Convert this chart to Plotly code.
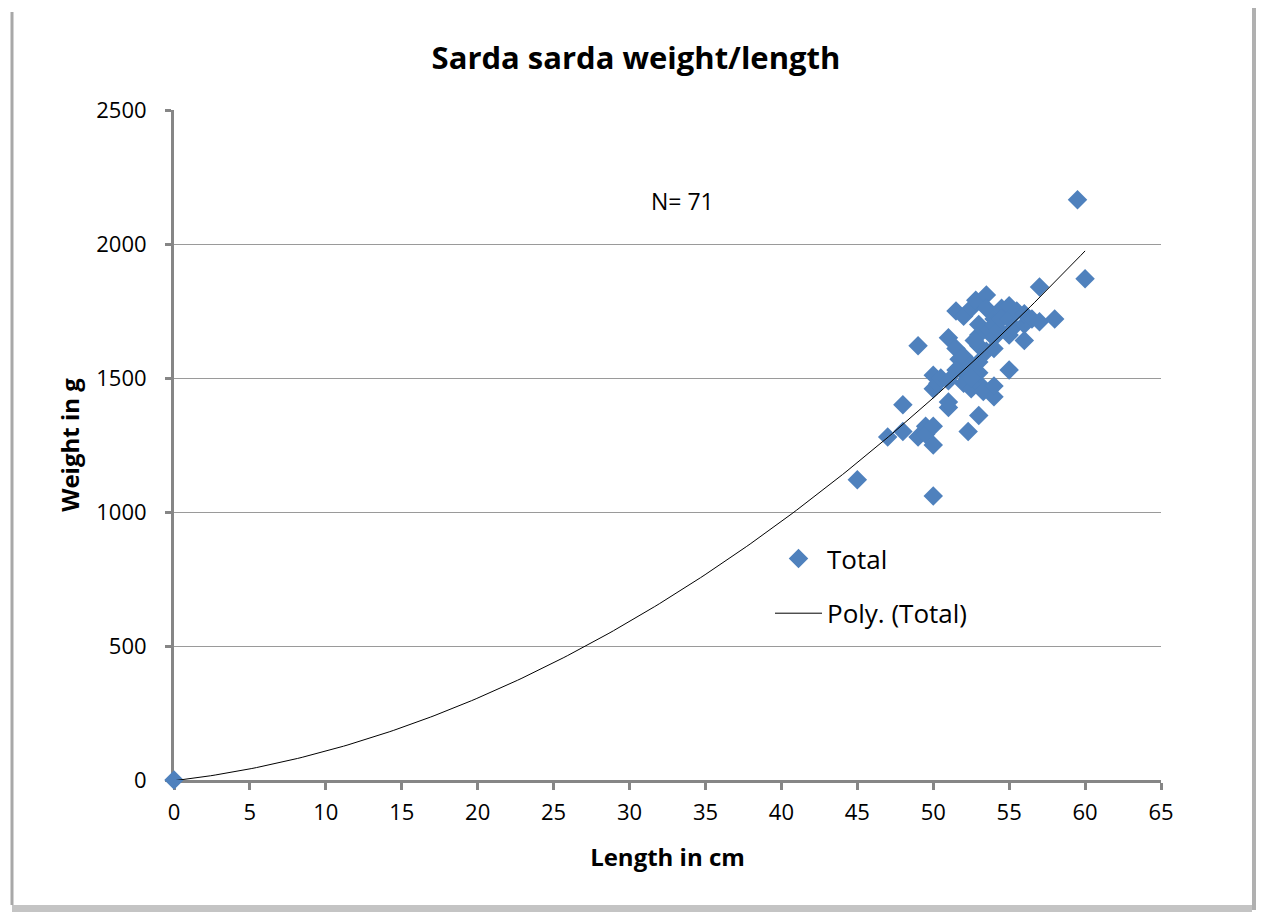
import numpy as np
import plotly.graph_objects as go

length_cm = [0, 45, 47, 48, 48, 49, 49, 49.5, 49.5, 50, 50, 50, 50, 50, 50.3, 50.5,
             51, 51, 51, 51, 51.5, 51.5, 51.7, 52, 52, 52, 52, 52.3, 52.5, 52.5,
             52.5, 52.8, 53, 53, 53, 53, 53, 53, 53.3, 53.5, 53.5, 53.5, 53.7, 54,
             54, 54, 54, 54, 54, 54.3, 54.5, 54.5, 55, 55, 55, 55, 55.3, 55.5, 56,
             56, 56, 56.5, 57, 57, 58, 59.5, 60, 52.5, 53, 51.5, 52.7]
weight_g = [0, 1120, 1280, 1300, 1400, 1620, 1280, 1320, 1290, 1250, 1060, 1320, 1510, 1460, 1480, 1500,
            1390, 1650, 1410, 1490, 1750, 1610, 1570, 1520, 1480, 1580, 1730, 1300, 1460, 1550,
            1760, 1790, 1360, 1480, 1620, 1660, 1700, 1520, 1450, 1810, 1760, 1600, 1680, 1430,
            1470, 1610, 1720, 1650, 1700, 1680, 1760, 1720, 1770, 1530, 1660, 1720, 1690, 1750, 1640,
            1700, 1740, 1720, 1840, 1710, 1720, 2165, 1870, 1500, 1560, 1530, 1640]

x_ticks = list(range(0, 70, 5))
y_ticks = [0, 500, 1000, 1500, 2000, 2500]

coef = np.polyfit(length_cm, weight_g, 2)
fx = np.linspace(0, max(length_cm), 200)
fy = np.polyval(coef, fx)

FONT = "Open Sans"
OFF = 8  # page body margin
W, H = 1264 - OFF, 916 - OFF
L, R, T, B = 174, 1161, 110, 780  # plot area in screen pixels

fig = go.Figure()
fig.add_trace(go.Scatter(
    x=length_cm, y=weight_g, mode="markers", name="Total", legendgroup="a",
    marker=dict(symbol="diamond", size=15, color="#4F81BD", line=dict(width=0)),
    cliponaxis=False))
fig.add_trace(go.Scatter(
    x=fx, y=fy, mode="lines", name="Poly. (Total)", legendgroup="b",
    line=dict(color="black", width=1)))


def px(xp):
    return (xp - L) / (R - L)


def py(yp):
    return (B - yp) / (B - T)


fig.update_layout(
    width=W, height=H,
    margin=dict(l=L - OFF, r=W - (R - OFF), t=T - OFF, b=H - (B - OFF)),
    paper_bgcolor="white", plot_bgcolor="white",
    title=dict(text="<b>Sarda sarda weight/length</b>", x=0.5, xanchor="center",
               xref="container",
               y=1 - (58 - OFF) / H, yanchor="middle",
               font=dict(family=FONT, size=31, color="black")),
    font=dict(family=FONT, color="black"),
    showlegend=True,
    legend=dict(x=px(770), y=py(535), xanchor="left", yanchor="top",
                bgcolor="rgba(0,0,0,0)", font=dict(size=26, family=FONT),
                traceorder="grouped", tracegroupgap=18, itemwidth=47),
    xaxis=dict(range=[0, 65], tickvals=x_ticks, showgrid=False, zeroline=False,
               showline=True, linecolor="#868686", linewidth=3,
               ticks="outside", ticklen=7, tickcolor="#868686", tickwidth=3,
               ticklabelstandoff=4, layer="below traces",
               tickfont=dict(size=22), title=dict(text="<b>Length in cm</b>",
                                                 font=dict(size=24), standoff=24)),
    yaxis=dict(range=[0, 2500], tickvals=y_ticks, showgrid=True, gridcolor="#9a9a9a",
               gridwidth=1, zeroline=False, showline=True, linecolor="#868686", linewidth=3,
               ticks="outside", ticklen=6, tickcolor="#868686", tickwidth=3,
               ticklabelstandoff=14, layer="below traces",
               tickfont=dict(size=22), title=dict(text="<b>Weight in g</b>",
                                                 font=dict(size=24), standoff=10)),
)

fig.add_annotation(text="N= 71", xref="paper", yref="paper",
                   x=px(682), y=py(183), showarrow=False,
                   font=dict(size=23, family=FONT))

# chart frame with shadow (left line, right shadow, bottom shadow)
fig.add_shape(type="rect", xref="paper", yref="paper",
              x0=px(1252), x1=px(1257), y0=py(910), y1=py(0),
              fillcolor="#b0b0b0", line=dict(width=0), layer="below")
fig.add_shape(type="rect", xref="paper", yref="paper",
              x0=px(1257), x1=px(1264), y0=py(910), y1=py(0),
              fillcolor="#6a6a6a", line=dict(width=0), layer="below")
fig.add_shape(type="rect", xref="paper", yref="paper",
              x0=px(12), x1=px(1252), y0=py(912), y1=py(905),
              fillcolor="#c4c4c4", line=dict(width=0), layer="below")
fig.add_shape(type="line", xref="paper", yref="paper",
              x0=px(12), x1=px(12), y0=py(905), y1=py(12),
              line=dict(color="#a8a8a8", width=3), layer="below")

fig.write_html("out.html")
